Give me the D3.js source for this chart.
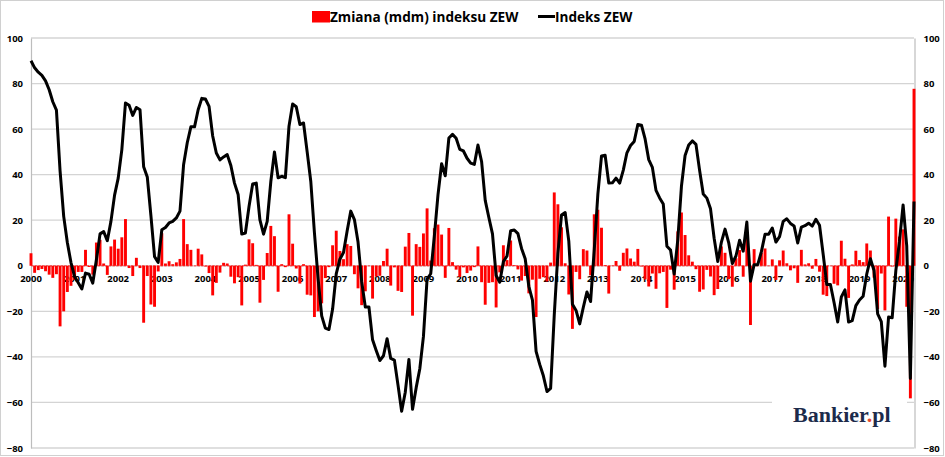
<!DOCTYPE html>
<html>
<head>
<meta charset="utf-8">
<script src="https://cdn.jsdelivr.net/npm/d3@7"></script>
<style>
  html, body { margin: 0; padding: 0; background: #fff; }
  svg { display: block; }
  .tick-label { font-family: "Open Sans", sans-serif; font-weight: 700; font-size: 9.5px; fill: #000; }
  .legend-text { font-family: "Open Sans", sans-serif; font-weight: 700; font-size: 13.6px; fill: #000; }
</style>
</head>
<body>
<div id="chart"></div>
<script>
// ZEW index, monthly, Jan 2000 .. Apr 2020
const years = d3.range(2000, 2021);
const yTicks = [-80, -60, -40, -20, 0, 20, 40, 60, 80, 100];

const zewIndex = [
  // 2000
  90.0, 86.9, 85.0, 83.6, 81.2, 77.3, 72.0, 68.3, 41.7, 21.7, 10.2, 1.4,
  // 2001
  -4.8, -7.5, -10.2, -3.2, -3.7, -7.6, 2.6, 14.0, 15.0, 11.0, 19.5, 31.0,
  // 2002
  38.5, 51.0, 71.5, 70.5, 66.0, 69.5, 68.5, 43.5, 39.0, 22.0, 4.0, 1.5,
  // 2003
  15.8, 16.8, 18.8, 19.5, 21.0, 24.0, 44.5, 54.0, 61.0, 61.0, 68.5, 73.5,
  // 2004
  73.2, 70.0, 57.0, 49.5, 46.5, 47.8, 48.8, 44.0, 36.3, 31.3, 13.9, 14.4,
  // 2005
  26.0, 35.9, 36.3, 20.1, 13.9, 19.5, 37.0, 50.0, 38.6, 39.3, 38.7, 61.3,
  // 2006
  71.0, 69.8, 62.0, 62.7, 50.0, 37.0, 14.5, -5.5, -22.0, -27.4, -28.0, -19.0,
  // 2007
  -3.6, 2.9, 5.8, 15.3, 24.0, 20.3, 10.4, -6.9, -18.1, -18.1, -32.5, -37.2,
  // 2008
  -41.6, -39.5, -32.0, -40.7, -41.4, -52.4, -63.9, -55.5, -41.1, -63.0, -53.5, -45.2,
  // 2009
  -31.0, -5.8, -3.5, 13.0, 31.1, 44.8, 39.5, 56.1, 57.7, 56.0, 51.1, 50.4,
  // 2010
  47.2, 45.1, 44.5, 53.0, 45.8, 28.7, 21.2, 14.0, -4.3, -7.2, 1.8, 4.3,
  // 2011
  15.4, 15.7, 14.1, 7.6, 3.1, -9.0, -15.1, -37.6, -43.3, -48.3, -55.2, -53.8,
  // 2012
  -21.6, 5.4, 22.3, 23.4, 10.8, -16.9, -19.6, -25.5, -18.2, -11.5, -15.7, 6.9,
  // 2013
  31.5, 48.2, 48.5, 36.3, 36.4, 38.5, 36.3, 42.0, 49.6, 52.8, 54.6, 62.0,
  // 2014
  61.7, 55.7, 46.6, 43.2, 33.1, 29.8, 27.1, 8.6, 6.9, -3.6, 11.5, 34.9,
  // 2015
  48.4, 53.0, 54.8, 53.3, 41.9, 31.5, 29.7, 25.0, 12.1, 1.9, 10.4, 16.1,
  // 2016
  10.2, 1.0, 4.3, 11.2, 6.4, 19.2, -6.8, 0.5, 0.5, 6.2, 13.8, 13.8,
  // 2017
  16.6, 10.4, 12.8, 19.5, 20.6, 18.6, 17.5, 10.0, 17.0, 17.6, 18.7, 17.4,
  // 2018
  20.4, 17.8, 5.1, -8.2, -8.2, -16.1, -24.7, -13.7, -10.6, -24.7, -24.1, -17.5,
  // 2019
  -15.0, -13.4, -3.6, 3.1, -2.1, -21.1, -24.5, -44.1, -22.5, -22.8, -2.1, 10.7,
  // 2020
  26.7, 8.7, -49.5, 28.2
];

// month-on-month change (mdm)
const zewChange = [
  // 2000
  5.5, -3.1, -1.9, -1.4, -2.4, -3.9, -5.3, -3.7, -26.6, -20.0, -11.5, -8.8,
  // 2001
  -6.2, -2.7, -2.7, 7.0, -0.5, -3.9, 10.2, 11.4, 1.0, -4.0, 8.5, 11.5,
  // 2002
  7.5, 12.5, 20.5, -1.0, -4.5, 3.5, -1.0, -25.0, -4.5, -17.0, -18.0, -2.5,
  // 2003
  14.3, 1.0, 2.0, 0.7, 1.5, 3.0, 20.5, 9.5, 7.0, 0.0, 7.5, 5.0,
  // 2004
  -0.3, -3.2, -13.0, -7.5, -3.0, 1.3, 1.0, -4.8, -7.7, -5.0, -17.4, 0.5,
  // 2005
  11.6, 9.9, 0.4, -16.2, -6.2, 5.6, 17.5, 13.0, -11.4, 0.7, -0.6, 22.6,
  // 2006
  9.7, -1.2, -7.8, 0.7, -12.7, -13.0, -22.5, -20.0, -16.5, -5.4, -0.6, 9.0,
  // 2007
  15.4, 6.5, 2.9, 9.5, 8.7, -3.7, -9.9, -17.3, -11.2, 0.0, -14.4, -4.7,
  // 2008
  -4.4, 2.1, 7.5, -8.7, -0.7, -11.0, -11.5, 8.4, 14.4, -21.9, 9.5, 8.3,
  // 2009
  14.2, 25.2, 2.3, 16.5, 18.1, 13.7, -5.3, 16.6, 1.6, -1.7, -4.9, -0.7,
  // 2010
  -3.2, -2.1, -0.6, 8.5, -7.2, -17.1, -7.5, -7.2, -18.3, -2.9, 9.0, 2.5,
  // 2011
  11.1, 0.3, -1.6, -6.5, -4.5, -12.1, -6.1, -22.5, -5.7, -5.0, -6.9, 1.4,
  // 2012
  32.2, 27.0, 16.9, 1.1, -12.6, -27.7, -2.7, -5.9, 7.3, 6.7, -4.2, 22.6,
  // 2013
  24.6, 16.7, 0.3, -12.2, 0.1, 2.1, -2.2, 5.7, 7.6, 3.2, 1.8, 7.4,
  // 2014
  -0.3, -6.0, -9.1, -3.4, -10.1, -3.3, -2.7, -18.5, -1.7, -10.5, 15.1, 23.4,
  // 2015
  13.5, 4.6, 1.8, -1.5, -11.4, -10.4, -1.8, -4.7, -12.9, -10.2, 8.5, 5.7,
  // 2016
  -5.9, -9.2, 3.3, 6.9, -4.8, 12.8, -26.0, 7.3, 0.0, 5.7, 7.6, 0.0,
  // 2017
  2.8, -6.2, 2.4, 6.7, 1.1, -2.0, -1.1, -7.5, 7.0, 0.6, 1.1, -1.3,
  // 2018
  3.0, -2.6, -12.7, -13.3, 0.0, -7.9, -8.6, 11.0, 3.1, -14.1, 0.6, 6.6,
  // 2019
  2.5, 1.6, 9.8, 6.7, -5.2, -19.0, -3.4, -19.6, 21.6, -0.3, 20.7, 12.8,
  // 2020
  16.0, -18.0, -58.2, 77.7
];

const legendItems = ['Zmiana (mdm) indeksu ZEW', 'Indeks ZEW'];

const width = 945, height = 457;
const plot = { left: 31, right: 914, top: 38, bottom: 448 };

const svg = d3.select('#chart').append('svg')
  .attr('width', width).attr('height', height);

// outer frame
svg.append('rect')
  .attr('x', 0.5).attr('y', 0.5)
  .attr('width', 943).attr('height', 455)
  .attr('fill', '#fff').attr('stroke', '#d0d0d0');

const x = d3.scaleLinear().domain([0, zewIndex.length - 1]).range([plot.left, plot.right]);
const y = d3.scaleLinear().domain([-80, 100]).range([plot.bottom, plot.top]);

// gridlines
svg.append('g')
  .selectAll('line')
  .data(yTicks)
  .join('line')
  .attr('x1', plot.left).attr('x2', plot.right)
  .attr('y1', d => y(d)).attr('y2', d => y(d))
  .attr('stroke', '#d4d4d4')
  .attr('stroke-width', 1.3);

// left / right axes
const leftAxis = d3.axisLeft(y).tickValues(yTicks).tickSize(0).tickPadding(8);
const rightAxis = d3.axisRight(y).tickValues(yTicks).tickSize(0).tickPadding(9);

const gl = svg.append('g').attr('transform', `translate(${plot.left},0)`).call(leftAxis);
const gr = svg.append('g').attr('transform', `translate(${plot.right + 0.5},0)`).call(rightAxis);
[gl, gr].forEach(g => {
  g.select('.domain').attr('stroke', '#bdbdbd').attr('stroke-width', 1.2);
  g.selectAll('text').attr('class', 'tick-label').attr('fill', '#000');
});

// year labels along the zero line (category axis)
svg.append('g')
  .selectAll('text')
  .data(years)
  .join('text')
  .attr('class', 'tick-label')
  .attr('x', d => x((d - 2000) * 12))
  .attr('y', y(0) + 16)
  .attr('text-anchor', 'middle')
  .text(d => d);

// zero axis (dashed, reddish)
svg.append('line')
  .attr('x1', plot.left).attr('x2', plot.right)
  .attr('y1', y(0)).attr('y2', y(0))
  .attr('stroke', '#f07070')
  .attr('stroke-width', 1.6)
  .attr('stroke-dasharray', '2.5,1.2');

// bars
const bw = 2.9;
svg.append('g')
  .selectAll('rect')
  .data(zewChange)
  .join('rect')
  .attr('x', (d, i) => x(i) - bw / 2)
  .attr('y', d => y(Math.max(0, d)))
  .attr('width', bw)
  .attr('height', d => Math.abs(y(d) - y(0)))
  .attr('fill', '#ff0000');

// index line
const line = d3.line().x((d, i) => x(i)).y(d => y(d));
svg.append('path')
  .datum(zewIndex)
  .attr('fill', 'none')
  .attr('stroke', '#000')
  .attr('stroke-width', 3)
  .attr('stroke-linejoin', 'round')
  .attr('d', line);

// legend
const lg = svg.append('g');
lg.append('rect').attr('x', 312).attr('y', 11).attr('width', 18).attr('height', 11.5).attr('fill', '#ff0000');
lg.append('text').attr('class', 'legend-text').attr('x', 330).attr('y', 22).text(legendItems[0]);
lg.append('line').attr('x1', 538).attr('x2', 555).attr('y1', 16.5).attr('y2', 16.5)
  .attr('stroke', '#000').attr('stroke-width', 3);
lg.append('text').attr('class', 'legend-text').attr('x', 555).attr('y', 22).text(legendItems[1]);

// Bankier.pl logo
const logo = svg.append('g');
logo.append('rect').attr('x', 772).attr('y', 386).attr('width', 135).attr('height', 52).attr('fill', '#fff');
const lt = logo.append('text')
  .attr('x', 793).attr('y', 422)
  .attr('font-family', '"Liberation Serif", serif')
  .attr('font-weight', 700)
  .attr('font-size', 22)
  .attr('fill', '#1c2b4b');
lt.append('tspan').text('Bankier');
lt.append('tspan').attr('fill', '#e5492d').text('.');
lt.append('tspan').text('pl');
</script>
</body>
</html>
